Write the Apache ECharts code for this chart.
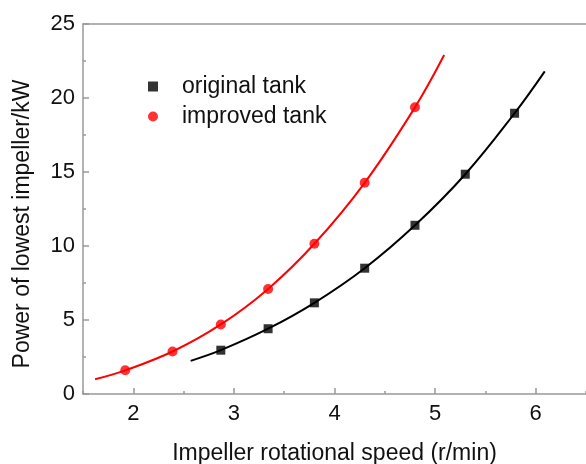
<!DOCTYPE html>
<html>
<head>
<meta charset="utf-8">
<script src="https://cdn.jsdelivr.net/npm/echarts@6/dist/echarts.min.js"></script>
<style>
  html, body { margin: 0; padding: 0; background: #fff; }
  #main { width: 586px; height: 464px; }
</style>
</head>
<body>
<div id="main"></div>
<script>
var myChart = echarts.init(document.getElementById('main'));

// measured points
var speedOriginal = [2.87, 3.34, 3.80, 4.30, 4.80, 5.30, 5.79];
var powerOriginal = [2.96, 4.41, 6.16, 8.50, 11.40, 14.85, 18.97];
var speedImproved = [1.92, 2.39, 2.87, 3.34, 3.80, 4.30, 4.80];
var powerImproved = [1.60, 2.87, 4.70, 7.10, 10.15, 14.27, 19.37];

// fitted curves (ends + through points)
var fitOriginalX = [2.57, 2.87, 3.34, 3.80, 4.30, 4.80, 5.30, 5.79, 6.09];
var fitOriginalY = [2.24, 2.96, 4.41, 6.16, 8.50, 11.40, 14.85, 18.97, 21.80];
var fitImprovedX = [1.62, 1.92, 2.39, 2.87, 3.34, 3.80, 4.30, 4.80, 5.09];
var fitImprovedY = [1.00, 1.60, 2.87, 4.70, 7.10, 10.15, 14.27, 19.37, 22.90];

var xTickLabels = [2, 3, 4, 5, 6];

var font = 'Arial, "Liberation Sans", sans-serif';
var axisGray = '#999';

function pairs(xs, ys) {
    return xs.map(function (x, i) { return [x, ys[i]]; });
}

option = {
    backgroundColor: '#fff',
    animation: false,
    grid: {
        left: 83,
        right: 0,
        top: 24,
        bottom: 70,
        outerBoundsMode: 'none'
    },
    legend: {
        left: 143,
        top: 70,
        orient: 'vertical',
        itemWidth: 10,
        itemHeight: 10,
        itemGap: 7,
        textStyle: {
            fontFamily: font,
            fontSize: 23,
            color: '#111',
            lineHeight: 23,
            padding: [0, 0, 0, 19]
        },
        data: [
            {name: 'original tank', icon: 'rect'},
            {name: 'improved tank', icon: 'circle'}
        ]
    },
    xAxis: [
        {   // main axis: labels, major ticks, name
            type: 'value',
            min: 1.5,
            max: 6.5,
            position: 'bottom',
            name: 'Impeller rotational speed (r/min)',
            nameLocation: 'middle',
            nameGap: 48,
            nameTextStyle: {fontFamily: font, fontSize: 23, color: '#111'},
            axisLine: {show: true, lineStyle: {color: axisGray, width: 1.5}},
            axisTick: {show: true, inside: true, length: 6, customValues: xTickLabels,
                lineStyle: {color: axisGray, width: 1.5}},
            axisLabel: {customValues: xTickLabels, fontFamily: font, fontSize: 22,
                color: '#111', margin: 9},
            splitLine: {show: false}
        },
        {   // minor ticks every 0.5
            type: 'value',
            min: 1.5,
            max: 6.5,
            interval: 0.5,
            position: 'bottom',
            axisLine: {show: false},
            axisTick: {show: true, inside: true, length: 3,
                lineStyle: {color: axisGray, width: 1.5}},
            axisLabel: {show: false},
            splitLine: {show: false}
        },
        {   // top frame line
            type: 'value',
            min: 1.5,
            max: 6.5,
            position: 'top',
            axisLine: {show: true, lineStyle: {color: axisGray, width: 1.5}},
            axisTick: {show: false},
            axisLabel: {show: false},
            splitLine: {show: false}
        }
    ],
    yAxis: {
        type: 'value',
        min: 0,
        max: 25,
        interval: 5,
        name: 'Power of lowest impeller/kW',
        nameLocation: 'middle',
        nameGap: 49,
        nameTextStyle: {fontFamily: font, fontSize: 23, color: '#111', padding: [0, 30, 0, 0]},
        axisLine: {show: true, lineStyle: {color: axisGray, width: 1.5}},
        axisTick: {show: true, inside: true, length: 6, lineStyle: {color: axisGray, width: 1.5}},
        minorTick: {show: true, splitNumber: 2, length: 3, lineStyle: {color: axisGray, width: 1.5}},
        axisLabel: {fontFamily: font, fontSize: 22, color: '#111', margin: 8},
        splitLine: {show: false}
    },
    series: [
        {
            name: 'original fit',
            type: 'line',
            smooth: 0.4,
            showSymbol: false,
            lineStyle: {color: '#000', width: 2},
            data: pairs(fitOriginalX, fitOriginalY),
            z: 1
        },
        {
            name: 'improved fit',
            type: 'line',
            smooth: 0.4,
            showSymbol: false,
            lineStyle: {color: '#ff0000', width: 2},
            data: pairs(fitImprovedX, fitImprovedY),
            z: 1
        },
        {
            name: 'original tank',
            type: 'scatter',
            symbol: 'rect',
            symbolSize: 9,
            itemStyle: {color: '#000'},
            data: pairs(speedOriginal, powerOriginal),
            z: 3
        },
        {
            name: 'improved tank',
            type: 'scatter',
            symbol: 'circle',
            symbolSize: 10,
            itemStyle: {color: '#ff0000'},
            data: pairs(speedImproved, powerImproved),
            z: 3
        }
    ]
};

myChart.setOption(option);
</script>
</body>
</html>
